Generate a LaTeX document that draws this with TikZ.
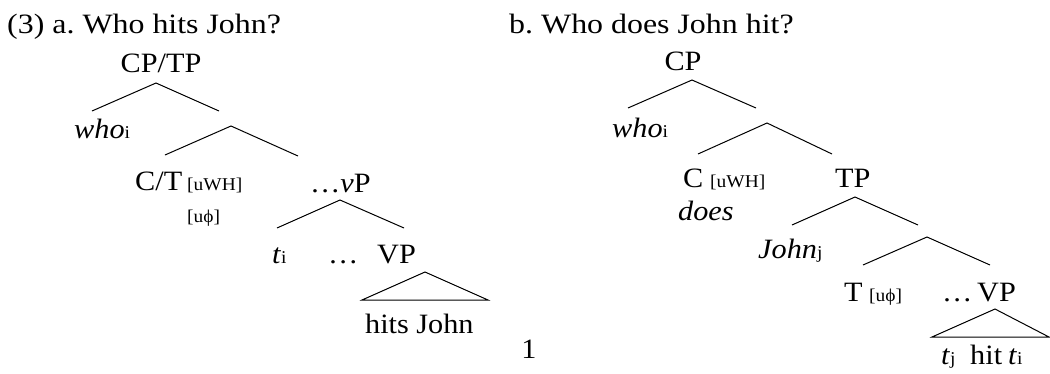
\documentclass[tikz,border=0pt]{standalone}
\usepackage{fontspec}
\setmainfont{Liberation Serif}
\begin{document}
\begin{tikzpicture}[x=1pt,y=-1pt,
  lbl/.style={font=\fontsize{28}{28}\selectfont, inner sep=0pt, anchor=base west, xscale=1.08},
  head/.style={lbl, xscale=1.055},
  sml/.style={font=\fontsize{18}{18}\selectfont, inner sep=0pt, anchor=base west, xscale=1.08},
  br/.style={line width=1pt}]
\useasboundingbox (0,0) rectangle (1050,373);
\newcommand{\sbx}[1]{{\fontsize{18}{18}\selectfont #1}}
% headings
\node[head] (hA) at (7,33) {(3) a.\ Who hits John?};
\node[head] (hB) at (509,33) {b.\ Who does John hit?};
% tree a
\node[lbl,anchor=base] (cptp) at (161,72) {CP/TP};
\node[lbl] (whoA) at (74,138) {\textit{who}\sbx{i}};
\node[lbl] (ct) at (135,190) {C/T};
\node[sml] (uwhA) at (187,190) {[uWH]};
\node[sml] (uphiA) at (187,222) {[uϕ]};
\node[lbl] (vp) at (310,192) {…\textit{v}P};
\node[lbl] (tiA) at (272,263) {\textit{t}\sbx{i}};
\node[lbl] (dotsA) at (328,263) {…};
\node[lbl] (vpA) at (377,263) {VP};
\node[lbl] (hits) at (365,333) {hits John};
\node[lbl,anchor=base] (pg) at (529,358) {1};
\coordinate (a1) at (156,83); \coordinate (a1l) at (92,111); \coordinate (a1r) at (219,111);
\coordinate (a2) at (231,126); \coordinate (a2l) at (165,155); \coordinate (a2r) at (298,156);
\coordinate (a3) at (340,200); \coordinate (a3l) at (277,228); \coordinate (a3r) at (404,228);
\coordinate (a4) at (425,272); \coordinate (a4l) at (362,300); \coordinate (a4r) at (488,300);
\draw[br] (a1l) -- (a1) -- (a1r);
\draw[br] (a2l) -- (a2) -- (a2r);
\draw[br] (a3l) -- (a3) -- (a3r);
\draw[br] (a4l) -- (a4) -- (a4r) -- cycle;
% tree b
\node[lbl,anchor=base] (cpb) at (683,70) {CP};
\node[lbl] (whoB) at (612,137) {\textit{who}\sbx{i}};
\node[lbl] (cb) at (683,187) {C};
\node[sml] (uwhB) at (710,187) {[uWH]};
\node[lbl] (does) at (678,220) {\textit{does}};
\node[lbl] (tpb) at (835,187) {TP};
\node[lbl] (johnj) at (758,258) {\textit{John}\sbx{j}};
\node[lbl] (tb) at (844,301) {T};
\node[sml] (uphiB) at (869,301) {[uϕ]};
\node[lbl] (dotsB) at (942,301) {…};
\node[lbl] (vpB) at (977,301) {VP};
\node[lbl] (tj) at (941,364) {\textit{t}\sbx{j}};
\node[lbl] (hit) at (970,364) {hit};
\node[lbl] (ti) at (1008,364) {\textit{t}\sbx{i}};
\coordinate (b1) at (692,80); \coordinate (b1l) at (628,108); \coordinate (b1r) at (756,108);
\coordinate (b2) at (767,123); \coordinate (b2l) at (698,154); \coordinate (b2r) at (832,154);
\coordinate (b3) at (855,197); \coordinate (b3l) at (792,225); \coordinate (b3r) at (918,225);
\coordinate (b4) at (927,237); \coordinate (b4l) at (863,265); \coordinate (b4r) at (990,265);
\coordinate (b5) at (995,309); \coordinate (b5l) at (932,337); \coordinate (b5r) at (1049,337);
\draw[br] (b1l) -- (b1) -- (b1r);
\draw[br] (b2l) -- (b2) -- (b2r);
\draw[br] (b3l) -- (b3) -- (b3r);
\draw[br] (b4l) -- (b4) -- (b4r);
\draw[br] (b5l) -- (b5) -- (b5r) -- cycle;
\end{tikzpicture}
\end{document}
